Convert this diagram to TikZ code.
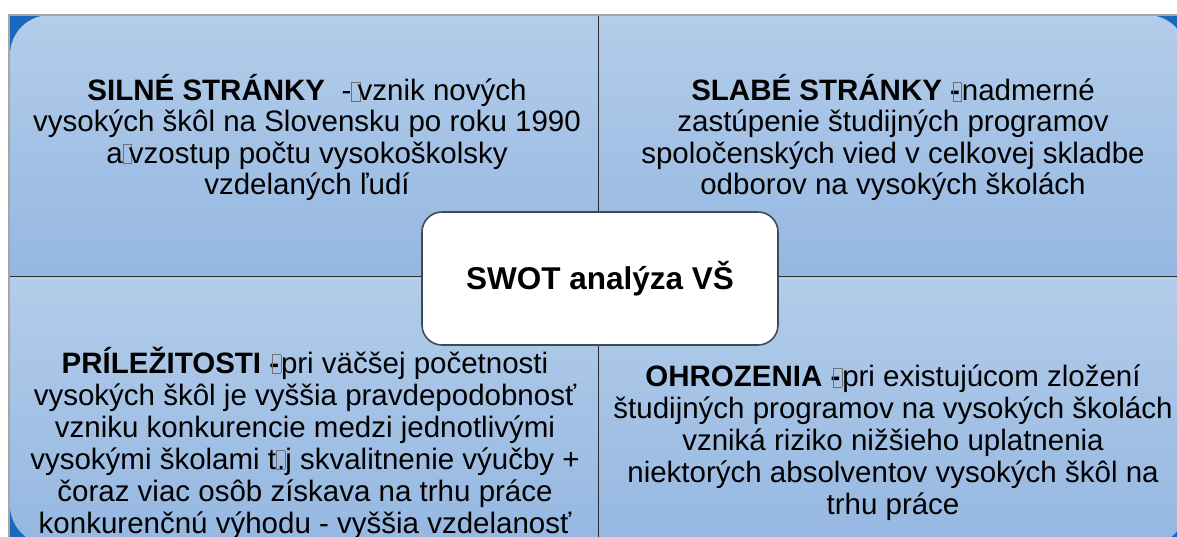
\documentclass[tikz,border=0pt]{standalone}
\usepackage{fontspec}
\setmainfont{Liberation Sans}
\definecolor{qtop}{HTML}{B3CDEA}
\definecolor{qbot}{HTML}{95B7E1}
\definecolor{darkb}{HTML}{1B68C0}
\definecolor{framegray}{HTML}{A6A6A6}
\definecolor{boxline}{HTML}{3F4B5B}
\definecolor{divline}{HTML}{2B2B2B}
\definecolor{mgray}{HTML}{707070}
\newcommand\mgl{{\color{mgray}\fboxsep=0pt\fboxrule=0.5pt\fbox{\rule{0pt}{0.62em}\hspace{0.28em}}}}
\begin{document}
\begin{tikzpicture}[x=1pt,y=-1pt,
  quad/.style={top color=qtop,bottom color=qbot},
  quadtext/.style={align=center,inner sep=0pt,text=black},
  toptext/.style={quadtext,font=\fontsize{29.5}{31.2}\selectfont},
  bottext/.style={quadtext,font=\fontsize{29.5}{32}\selectfont},
  centerbox/.style={draw=boxline,line width=1.6pt,fill=white,rounded corners=20pt,
    minimum width=356pt,minimum height=133pt,inner sep=0pt,
    font=\bfseries\fontsize{31.5}{36}\selectfont}]
\useasboundingbox (0,0) rectangle (1177,536);
\fill[white] (0,0) rectangle (1177,536);
\fill[darkb] (10,15) rectangle (1187,545);
% quadrants
\shade[quad] (10,276) [rounded corners=40pt] -- (10,15) [sharp corners] -- (598,15) -- (598,276) -- cycle;
\shade[quad] (598,15) [rounded corners=40pt] -- (1187,15) [sharp corners] -- (1187,276) -- (598,276) -- cycle;
\shade[quad] (10,276) -- (598,276) -- (598,545) [rounded corners=40pt] -- (10,545) [sharp corners] -- cycle;
\shade[quad] (598,276) -- (1187,276) [rounded corners=40pt] -- (1187,545) [sharp corners] -- (598,545) -- cycle;
% dividers
\draw[divline,line width=1pt] (598,15) -- (598,545);
\draw[divline,line width=1pt] (10,276) -- (1187,276);
% frame
\draw[framegray,line width=1.3pt] (9,545) -- (9,15) -- (1187,15);
% texts
\node[toptext] (sw) at (307,137.5) {\textbf{SILNÉ STRÁNKY}\ \ -\mgl\kern-0.1em vznik nových\\ vysokých škôl na Slovensku po roku 1990\\ a\mgl\kern-0.1em vzostup počtu vysokoškolsky\\ vzdelaných ľudí};
\node[toptext] (we) at (893,137.5) {\textbf{SLABÉ STRÁNKY -}\kern-0.25em\mgl nadmerné\\ zastúpenie študijných programov\\ spoločenských vied v celkovej skladbe\\ odborov na vysokých školách};
\node[bottext] (op) at (305,443) {\textbf{PRÍLEŽITOSTI -}\kern-0.25em\mgl pri väčšej početnosti\\ vysokých škôl je vyššia pravdepodobnosť\\ vzniku konkurencie medzi jednotlivými\\ vysokými školami t\mgl\kern-0.28em.j skvalitnenie výučby +\\ čoraz viac osôb získava na trhu práce\\ konkurenčnú výhodu - vyššia vzdelanosť};
\node[bottext] (th) at (893,443) {\textbf{OHROZENIA -}\kern-0.25em\mgl pri existujúcom zložení\\ študijných programov na vysokých školách\\ vzniká riziko nižšieho uplatnenia\\ niektorých absolventov vysokých škôl na\\ trhu práce};
% center
\node[centerbox] (swot) at (600,278.5) {SWOT analýza VŠ};
\end{tikzpicture}
\end{document}
